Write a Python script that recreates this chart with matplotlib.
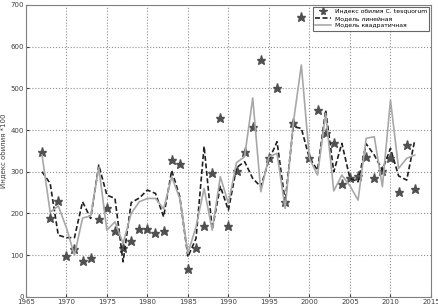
import numpy as np
from matplotlib import pyplot as plt


years = list(range(1967, 2014))

# наблюдения (индекс обилия *100)
observed = [347, 188, 230, 98, 114, 86, 92, 186, 212, 159,
            118, 133, 162, 162, 154, 158, 329, 319, 66, 118,
            170, 298, 428, 170, 302, 348, 408, 569, 333, 501,
            228, 417, 671, 332, 447, 392, 368, 270, 284, 290,
            336, 284, 302, 333, 252, 365, 258]

# линейная модель
linear = [300, 272, 148, 142, 142, 228, 188, 316, 244, 236,
          84, 226, 237, 256, 248, 192, 303, 240, 96, 140,
          361, 162, 265, 208, 310, 324, 284, 264, 328, 372,
          228, 408, 404, 332, 304, 448, 300, 368, 284, 276,
          367, 340, 304, 356, 290, 280, 376]

# квадратичная модель
quadratic = [340, 203, 218, 166, 100, 189, 194, 310, 160, 180,
             128, 200, 228, 236, 236, 211, 288, 236, 104, 168,
             260, 160, 288, 224, 322, 336, 477, 252, 336, 344,
             212, 416, 556, 332, 292, 440, 254, 292, 266, 232,
             380, 384, 264, 472, 308, 332, 340]

legend_labels = ['Индекс обилия C. tesquorum', 'Модель линейная', 'Модель квадратичная']

fig = plt.figure(figsize=(4.38, 3.07), dpi=100)
ax = fig.add_axes([0.059, 0.033, 0.925, 0.951])

ax.plot(years, observed, linestyle='none', marker='*', markersize=6.5,
        color='#505050', label=legend_labels[0])
ax.plot(years, linear, '--', color='#202020', linewidth=1.2, dashes=(3, 1.5),
        label=legend_labels[1])
ax.plot(years, quadratic, '-', color='#a8a8a8', linewidth=1.2, label=legend_labels[2])

ax.set_xlim(1965, 2015)
ax.set_ylim(0, 700)
ax.set_xticks(np.arange(1965, 2016, 5))
ax.set_yticks(np.arange(0, 701, 100))
ax.grid(True, linestyle=':', color='#909090', linewidth=0.8)
ax.tick_params(labelsize=5, colors='#404040', length=2, direction='in', pad=1.5)
for s in ax.spines.values():
    s.set_color('#808080')
ax.set_ylabel('Индекс обилия *100', fontsize=5, color='#404040', labelpad=2)

leg = ax.legend(loc='upper right', fontsize=4.4, frameon=True, fancybox=False,
                edgecolor='#404040', borderaxespad=0.3, handlelength=2.6,
                handletextpad=0.6, borderpad=0.35, labelspacing=0.3, markerscale=0.9)
leg.get_frame().set_linewidth(0.8)

plt.savefig('out.png', dpi=100)
